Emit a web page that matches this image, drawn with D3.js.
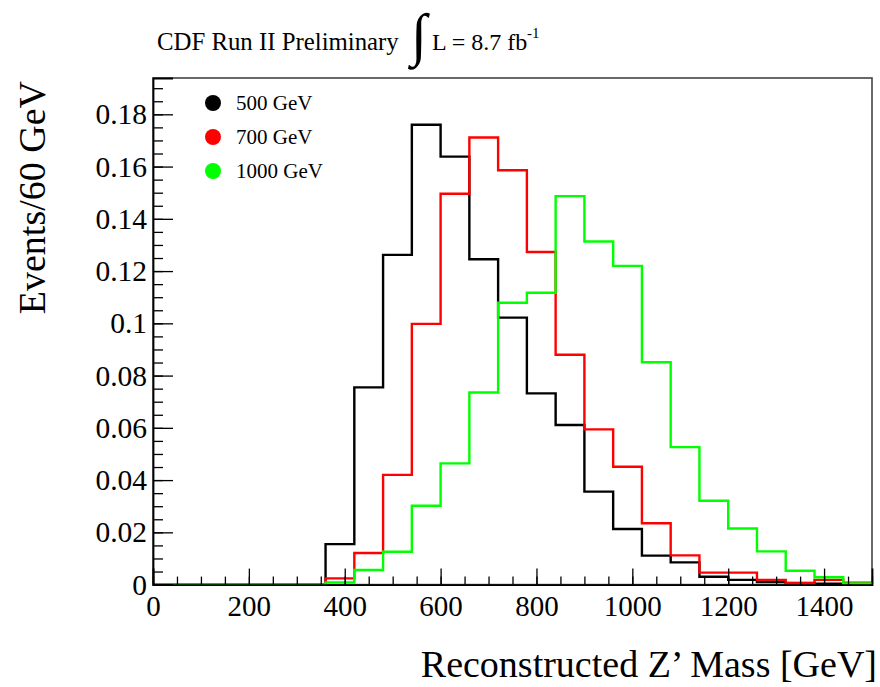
<!DOCTYPE html>
<html>
<head>
<meta charset="utf-8">
<script src="https://cdn.jsdelivr.net/npm/d3@7"></script>
<style>
  html, body { margin: 0; padding: 0; background: #fff; }
  svg { display: block; }
  text { font-family: "Liberation Serif", "Times New Roman", serif; fill: #000; }
</style>
</head>
<body>
<svg id="chart" width="880" height="687"></svg>
<script>
// Bin edges: 25 bins of 60 GeV from 0 to 1500 GeV
const binWidth = 60;
const binStarts = d3.range(0, 1500, binWidth);

// Normalised reconstructed-mass distributions per signal mass hypothesis
const mass500 = [0, 0, 0, 0, 0, 0, 0.0155, 0.0755, 0.1262, 0.1760, 0.1638, 0.1245, 0.1022,
                 0.0732, 0.0611, 0.0356, 0.0213, 0.0111, 0.0085, 0.0030, 0.0018, 0.0010,
                 0.0006, 0.0003, 0];
const mass700 = [0, 0, 0, 0, 0, 0, 0.0024, 0.0121, 0.0420, 0.0998, 0.1496, 0.1711, 0.1586,
                 0.1273, 0.0880, 0.0594, 0.0451, 0.0235, 0.0112, 0.0046, 0.0046, 0.0018,
                 0.0005, 0.0018, 0.0007];
const mass1000 = [0, 0, 0, 0, 0, 0, 0.0008, 0.0056, 0.0126, 0.0302, 0.0464, 0.0735, 0.1079,
                  0.1117, 0.1487, 0.1313, 0.1220, 0.0851, 0.0526, 0.0321, 0.0215, 0.0127,
                  0.0053, 0.0028, 0.0004];

const seriesNames = ["500 GeV", "700 GeV", "1000 GeV"];
const seriesColors = ["#000000", "#ff0000", "#00ff00"];
const seriesValues = [mass500, mass700, mass1000];

const xTicks = [0, 200, 400, 600, 800, 1000, 1200, 1400];
const xMinorTicks = d3.range(0, 1501, 50);
const yTicks = [0, 0.02, 0.04, 0.06, 0.08, 0.1, 0.12, 0.14, 0.16, 0.18];
const yTickLabels = ["0", "0.02", "0.04", "0.06", "0.08", "0.1", "0.12", "0.14", "0.16", "0.18"];
const yMinorTicks = d3.range(0, 39).map(i => i * 0.005);
const yMax = 0.1939;

const frame = { left: 153, right: 872, top: 78, bottom: 584.6 };

const svg = d3.select("#chart");

const x = d3.scaleLinear().domain([0, 1500]).range([frame.left, frame.right]);
const y = d3.scaleLinear().domain([0, yMax]).range([frame.bottom, frame.top]);

// Frame box (top/right edges)
svg.append("rect")
  .attr("x", frame.left).attr("y", frame.top)
  .attr("width", frame.right - frame.left).attr("height", frame.bottom - frame.top)
  .attr("fill", "none").attr("stroke", "#444").attr("stroke-width", 1.6);

// Histograms drawn as step outlines
const stepLine = d3.line()
  .x(d => x(d[0]))
  .y(d => y(d[1]))
  .curve(d3.curveStepAfter);

seriesValues.forEach((vals, i) => {
  const pts = binStarts.map((b, k) => [b, vals[k]]);
  pts.push([1500, vals[vals.length - 1]]);
  svg.append("path")
    .attr("d", stepLine(pts))
    .attr("fill", "none")
    .attr("stroke", seriesColors[i])
    .attr("stroke-width", 2.4)
    .attr("stroke-linejoin", "miter");
});

// X axis: minor and major ticks pointing inwards
const xAxisG = svg.append("g").attr("transform", `translate(0,${frame.bottom})`);
xAxisG.append("g")
  .call(d3.axisBottom(x).tickValues(xMinorTicks).tickSize(-8).tickFormat(""))
  .call(g => g.select(".domain").remove());
xAxisG.append("g")
  .call(d3.axisBottom(x).tickValues(xTicks).tickSize(-16).tickPadding(11).tickFormat(d3.format("d")))
  .call(g => g.select(".domain").attr("stroke-width", 1.8))
  .call(g => g.selectAll("text").attr("font-size", 29).attr("font-family", "Liberation Serif"));
xAxisG.selectAll("line").attr("stroke", "#000").attr("stroke-width", 1.3);

// Y axis
const yAxisG = svg.append("g").attr("transform", `translate(${frame.left},0)`);
yAxisG.append("g")
  .call(d3.axisLeft(y).tickValues(yMinorTicks).tickSize(-10).tickFormat(""))
  .call(g => g.select(".domain").remove());
yAxisG.append("g")
  .call(d3.axisLeft(y).tickValues(yTicks).tickSize(-20).tickPadding(6)
        .tickFormat((d, i) => yTickLabels[i]))
  .call(g => g.select(".domain").attr("stroke-width", 1.8))
  .call(g => g.selectAll("text").attr("font-size", 29.5).attr("font-family", "Liberation Serif"));
yAxisG.selectAll("line").attr("stroke", "#000").attr("stroke-width", 1.3);
svg.selectAll(".domain").attr("stroke", "#000");

// Axis titles
svg.append("text")
  .attr("x", 877).attr("y", 677)
  .attr("text-anchor", "end")
  .attr("font-size", 38)
  .text("Reconstructed Z’ Mass [GeV]");

svg.append("text")
  .attr("transform", "translate(45,81) rotate(-90)")
  .attr("text-anchor", "end")
  .attr("font-size", 38)
  .text("Events/60 GeV");

// Title with integrated luminosity
const title = svg.append("g");
title.append("text")
  .attr("x", 157).attr("y", 50)
  .attr("font-size", 24.8)
  .text("CDF Run II Preliminary");
title.append("text")
  .attr("x", 411).attr("y", 54)
  .attr("font-size", 58)
  .text("∫");
title.append("text")
  .attr("x", 432).attr("y", 50)
  .attr("font-size", 24)
  .text("L = 8.7 fb");
title.append("text")
  .attr("x", 527).attr("y", 38)
  .attr("font-size", 15)
  .text("-1");

// Legend
const legend = svg.append("g");
seriesNames.forEach((name, i) => {
  const cy = 103 + i * 34;
  legend.append("circle")
    .attr("cx", 213).attr("cy", cy).attr("r", 8)
    .attr("fill", seriesColors[i]);
  legend.append("text")
    .attr("x", 236).attr("y", cy + 7)
    .attr("font-size", 21)
    .text(name);
});
</script>
</body>
</html>
